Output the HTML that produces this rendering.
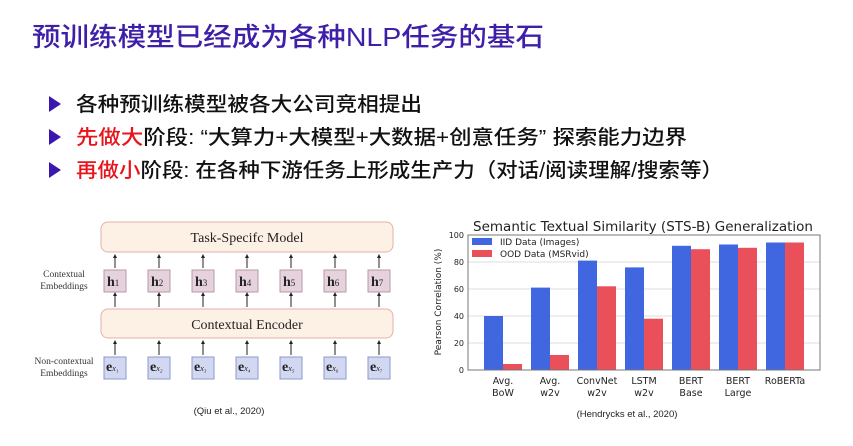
<!DOCTYPE html>
<html><head><meta charset="utf-8"><style>
html,body{margin:0;padding:0;background:#fff;}
svg{display:block;}
</style></head><body>
<svg width="853" height="446" xmlns="http://www.w3.org/2000/svg" font-family="Liberation Sans, Noto Sans CJK SC, sans-serif">
<rect width="853" height="446" fill="#fff"/>
<text x="32" y="46" font-size="26" fill="#3f1fa8" font-weight="500" textLength="512" lengthAdjust="spacingAndGlyphs">预训练模型已经成为各种NLP任务的基石</text>
<g fill="#3a18b0">
<polygon points="49,96 49,112 61,104"/>
<polygon points="49,129 49,145 61,137"/>
<polygon points="49,162 49,178 61,170"/>
</g>
<g font-size="20" fill="#111" font-weight="500">
<text x="76" y="111" textLength="346" lengthAdjust="spacingAndGlyphs">各种预训练模型被各大公司竞相提出</text>
<text x="76" y="144" textLength="611" lengthAdjust="spacingAndGlyphs"><tspan fill="#e8141b">先做大</tspan>阶段: “大算力+大模型+大数据+创意任务” 探索能力边界</text>
<text x="76" y="177" textLength="647" lengthAdjust="spacingAndGlyphs"><tspan fill="#e8141b">再做小</tspan>阶段: 在各种下游任务上形成生产力（对话/阅读理解/搜索等）</text>
</g>
<g font-family="Liberation Serif, serif">
<rect x="101" y="222" width="292" height="30" rx="7" fill="#fdf1e6" stroke="#e6b0a8"/>
<text x="247" y="242" font-size="14" text-anchor="middle" fill="#222">Task-Specifc Model</text>
<rect x="101" y="309" width="292" height="29" rx="7" fill="#fdf1e6" stroke="#e6b0a8"/>
<text x="247" y="329" font-size="14" text-anchor="middle" fill="#222">Contextual Encoder</text>
<text x="64" y="277" font-size="9.5" text-anchor="middle" fill="#333">Contextual</text>
<text x="64" y="289" font-size="9.5" text-anchor="middle" fill="#333">Embeddings</text>
<text x="64" y="364" font-size="9.5" text-anchor="middle" fill="#333">Non-contextual</text>
<text x="64" y="376" font-size="9.5" text-anchor="middle" fill="#333">Embeddings</text>
</g>
<g font-family="Liberation Serif, serif" font-size="12" fill="#222">
<g stroke="#222" stroke-width="1">
<line x1="115" y1="256" x2="115" y2="268"/><line x1="115" y1="294" x2="115" y2="307"/><line x1="115" y1="342" x2="115" y2="355"/>
<line x1="159" y1="256" x2="159" y2="268"/><line x1="159" y1="294" x2="159" y2="307"/><line x1="159" y1="342" x2="159" y2="355"/>
<line x1="203" y1="256" x2="203" y2="268"/><line x1="203" y1="294" x2="203" y2="307"/><line x1="203" y1="342" x2="203" y2="355"/>
<line x1="247" y1="256" x2="247" y2="268"/><line x1="247" y1="294" x2="247" y2="307"/><line x1="247" y1="342" x2="247" y2="355"/>
<line x1="291" y1="256" x2="291" y2="268"/><line x1="291" y1="294" x2="291" y2="307"/><line x1="291" y1="342" x2="291" y2="355"/>
<line x1="335" y1="256" x2="335" y2="268"/><line x1="335" y1="294" x2="335" y2="307"/><line x1="335" y1="342" x2="335" y2="355"/>
<line x1="379" y1="256" x2="379" y2="268"/><line x1="379" y1="294" x2="379" y2="307"/><line x1="379" y1="342" x2="379" y2="355"/>
</g>
<g fill="#222">
<polygon points="113,258 117,258 115,254"/><polygon points="113,296 117,296 115,292"/><polygon points="113,344 117,344 115,340"/>
<polygon points="157,258 161,258 159,254"/><polygon points="157,296 161,296 159,292"/><polygon points="157,344 161,344 159,340"/>
<polygon points="201,258 205,258 203,254"/><polygon points="201,296 205,296 203,292"/><polygon points="201,344 205,344 203,340"/>
<polygon points="245,258 249,258 247,254"/><polygon points="245,296 249,296 247,292"/><polygon points="245,344 249,344 247,340"/>
<polygon points="289,258 293,258 291,254"/><polygon points="289,296 293,296 291,292"/><polygon points="289,344 293,344 291,340"/>
<polygon points="333,258 337,258 335,254"/><polygon points="333,296 337,296 335,292"/><polygon points="333,344 337,344 335,340"/>
<polygon points="377,258 381,258 379,254"/><polygon points="377,296 381,296 379,292"/><polygon points="377,344 381,344 379,340"/>
</g>
<g fill="#e6d2dc" stroke="#b898a8">
<rect x="104" y="270" width="22" height="22"/><rect x="148" y="270" width="22" height="22"/><rect x="192" y="270" width="22" height="22"/><rect x="236" y="270" width="22" height="22"/><rect x="280" y="270" width="22" height="22"/><rect x="324" y="270" width="22" height="22"/><rect x="368" y="270" width="22" height="22"/>
</g>
<g fill="#d2d8f2" stroke="#8c98c8">
<rect x="104" y="357" width="22" height="22"/><rect x="148" y="357" width="22" height="22"/><rect x="192" y="357" width="22" height="22"/><rect x="236" y="357" width="22" height="22"/><rect x="280" y="357" width="22" height="22"/><rect x="324" y="357" width="22" height="22"/><rect x="368" y="357" width="22" height="22"/>
</g>
<g font-size="14" font-weight="bold">
<text x="107" y="286">h<tspan font-size="9" font-weight="normal">1</tspan></text>
<text x="151" y="286">h<tspan font-size="9" font-weight="normal">2</tspan></text>
<text x="195" y="286">h<tspan font-size="9" font-weight="normal">3</tspan></text>
<text x="239" y="286">h<tspan font-size="9" font-weight="normal">4</tspan></text>
<text x="283" y="286">h<tspan font-size="9" font-weight="normal">5</tspan></text>
<text x="327" y="286">h<tspan font-size="9" font-weight="normal">6</tspan></text>
<text x="371" y="286">h<tspan font-size="9" font-weight="normal">7</tspan></text>
<text x="106" y="371">e<tspan font-size="8" font-weight="normal" font-style="italic">x₁</tspan></text>
<text x="150" y="371">e<tspan font-size="8" font-weight="normal" font-style="italic">x₂</tspan></text>
<text x="194" y="371">e<tspan font-size="8" font-weight="normal" font-style="italic">x₃</tspan></text>
<text x="238" y="371">e<tspan font-size="8" font-weight="normal" font-style="italic">x₄</tspan></text>
<text x="282" y="371">e<tspan font-size="8" font-weight="normal" font-style="italic">x₅</tspan></text>
<text x="326" y="371">e<tspan font-size="8" font-weight="normal" font-style="italic">x₆</tspan></text>
<text x="370" y="371">e<tspan font-size="8" font-weight="normal" font-style="italic">x₇</tspan></text>
</g>
</g>
<text x="229" y="414" font-size="9.5" text-anchor="middle" fill="#222">(Qiu et al., 2020)</text>
<text x="643" y="231" font-size="13.5" text-anchor="middle" fill="#222" font-family="DejaVu Sans, sans-serif">Semantic Textual Similarity (STS-B) Generalization</text>
<g stroke="#ddd" stroke-width="1">
<line x1="468" y1="262" x2="820" y2="262"/><line x1="468" y1="289" x2="820" y2="289"/><line x1="468" y1="316" x2="820" y2="316"/><line x1="468" y1="343" x2="820" y2="343"/>
</g>
<g fill="#4066e0">
<rect x="484" y="316" width="19" height="54"/>
<rect x="531" y="287.6" width="19" height="82.4"/>
<rect x="578" y="260.6" width="19" height="109.4"/>
<rect x="625" y="267.4" width="19" height="102.6"/>
<rect x="672" y="245.8" width="19" height="124.2"/>
<rect x="719" y="244.5" width="19" height="125.5"/>
<rect x="766" y="242.5" width="19" height="127.5"/>
</g>
<g fill="#e9505a">
<rect x="503" y="364" width="19" height="6"/>
<rect x="550" y="355" width="19" height="15"/>
<rect x="597" y="286.3" width="19" height="83.7"/>
<rect x="644" y="318.7" width="19" height="51.3"/>
<rect x="691" y="249.2" width="19" height="120.8"/>
<rect x="738" y="247.8" width="19" height="122.2"/>
<rect x="785" y="242.5" width="19" height="127.5"/>
</g>
<rect x="468" y="235" width="352" height="135" fill="none" stroke="#777"/>
<rect x="470" y="236" width="134" height="24" fill="#fff" fill-opacity="0.85"/>
<rect x="472" y="238" width="20" height="7" fill="#4066e0"/>
<rect x="472" y="250" width="20" height="7" fill="#e9505a"/>
<g font-family="DejaVu Sans, sans-serif" fill="#222">
<text x="500" y="245" font-size="9">IID Data (Images)</text>
<text x="500" y="257" font-size="9">OOD Data (MSRvid)</text>
<g font-size="8" text-anchor="end">
<text x="464" y="238">100</text><text x="464" y="265">80</text><text x="464" y="292">60</text><text x="464" y="319">40</text><text x="464" y="346">20</text><text x="464" y="373">0</text>
</g>
<text transform="translate(441,302) rotate(-90)" font-size="9" text-anchor="middle">Pearson Correlation (%)</text>
<g font-size="9.5" text-anchor="middle">
<text x="503" y="384">Avg.</text><text x="503" y="396">BoW</text>
<text x="550" y="384">Avg.</text><text x="550" y="396">w2v</text>
<text x="597" y="384">ConvNet</text><text x="597" y="396">w2v</text>
<text x="644" y="384">LSTM</text><text x="644" y="396">w2v</text>
<text x="691" y="384">BERT</text><text x="691" y="396">Base</text>
<text x="738" y="384">BERT</text><text x="738" y="396">Large</text>
<text x="785" y="384">RoBERTa</text>
</g>
</g>
<text x="627" y="417" font-size="9.5" text-anchor="middle" fill="#222">(Hendrycks et al., 2020)</text>
</svg>
</body></html>
